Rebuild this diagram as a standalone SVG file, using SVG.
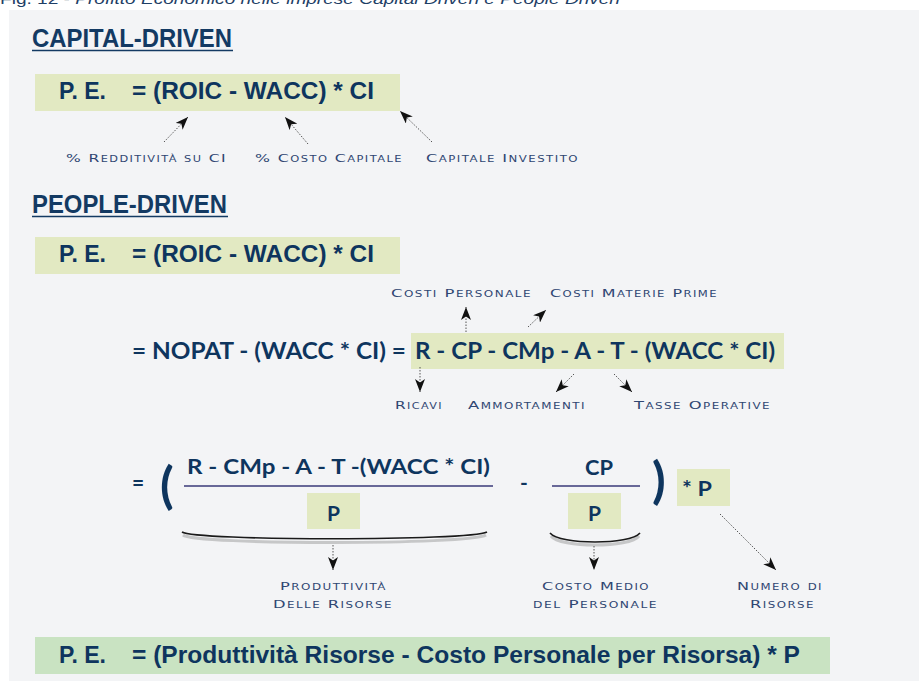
<svg xmlns="http://www.w3.org/2000/svg" width="919" height="681" viewBox="0 0 919 681">
<style>
.cap{font-family:"Liberation Sans",Arial,sans-serif;font-style:italic;font-size:15px;fill:#1f3f66}
.hdr{font-family:"Liberation Sans",Arial,sans-serif;font-weight:bold;font-size:25px;fill:#133a63}
.ul{stroke:#133a63;stroke-width:1.6}
.box{fill:#e2e9c2}
.box2{fill:#c9e3c2}
.f1{font-family:"Liberation Sans",Arial,sans-serif;font-weight:bold;font-size:24px;fill:#0e355e}
.f2{font-family:Lato,"Open Sans",sans-serif;font-weight:bold;font-size:23px;fill:#0e355e}
.f3{font-family:Lato,"Open Sans",sans-serif;font-weight:bold;font-size:21px;fill:#0e355e}
.paren{font-family:Lato,"Open Sans",sans-serif;font-weight:bold;font-size:50px;fill:#0e355e}
.lbl{font-family:"DejaVu Sans",Verdana,sans-serif;font-size:11px;font-variant:small-caps;fill:#2f4672;letter-spacing:1px}
.arr{stroke:#555;stroke-width:1;stroke-dasharray:1.5 1.5;fill:none}
.frac{stroke:#3a3a78;stroke-width:1.6}
.brace{fill:none;stroke:#1a1a1a;stroke-width:1.6}
.bshadow{fill:none;stroke:#9a9a9a;stroke-width:3;opacity:0.5}
</style>
<defs>
<marker id="ah" viewBox="0 0 13 10" markerWidth="13" markerHeight="10" refX="13" refY="5" orient="auto" markerUnits="userSpaceOnUse">
<path d="M0,0 L13,5 L0,10 L3.5,5 Z" fill="#111"/>
</marker>
</defs>
<rect x="0" y="0" width="919" height="681" fill="#ffffff"/>
<rect x="9" y="10" width="910" height="671" fill="#f3f4f6"/>
<text class="cap" x="0" y="4" textLength="620" lengthAdjust="spacingAndGlyphs"><tspan font-style="normal">Fig. 12 - </tspan>Profitto Economico nelle imprese Capital Driven e People Driven</text>

<g id="capital-header">
<text class="hdr" x="32" y="47" textLength="200" lengthAdjust="spacingAndGlyphs">CAPITAL-DRIVEN</text>
<line class="ul" x1="32" y1="50.5" x2="233" y2="50.5"/>
</g>
<g id="capital-formula">
<rect class="box" x="35" y="74" width="365" height="37"/>
<text class="f1" x="59" y="99" textLength="47" lengthAdjust="spacingAndGlyphs">P. E.</text>
<text class="f1" x="132" y="99" textLength="242" lengthAdjust="spacingAndGlyphs">= (ROIC - WACC) * CI</text>
</g>
<g id="lbl-redditivita"><text class="lbl" x="66" y="162" textLength="161" lengthAdjust="spacingAndGlyphs">% Redditività su CI</text></g>
<g id="lbl-costo-capitale"><text class="lbl" x="255" y="162" textLength="148" lengthAdjust="spacingAndGlyphs">% Costo Capitale</text></g>
<g id="lbl-capitale-investito"><text class="lbl" x="426" y="162" textLength="153" lengthAdjust="spacingAndGlyphs">Capitale Investito</text></g>

<g id="people-header">
<text class="hdr" x="32" y="213" textLength="195" lengthAdjust="spacingAndGlyphs">PEOPLE-DRIVEN</text>
<line class="ul" x1="32" y1="216.5" x2="228" y2="216.5"/>
</g>
<g id="people-formula">
<rect class="box" x="35" y="237" width="365" height="37"/>
<text class="f1" x="59" y="262" textLength="47" lengthAdjust="spacingAndGlyphs">P. E.</text>
<text class="f1" x="132" y="262" textLength="242" lengthAdjust="spacingAndGlyphs">= (ROIC - WACC) * CI</text>
</g>

<g id="nopat-line">
<text class="f2" x="132" y="359" textLength="274" lengthAdjust="spacingAndGlyphs">= NOPAT - (WACC * CI) =</text>
</g>
<g id="expanded-formula">
<rect class="box" x="411" y="333" width="373" height="36"/>
<text class="f2" x="415" y="359" textLength="360" lengthAdjust="spacingAndGlyphs">R - CP - CMp - A - T - (WACC * CI)</text>
</g>
<g id="lbl-costi-personale"><text class="lbl" x="391" y="297" textLength="141" lengthAdjust="spacingAndGlyphs">Costi Personale</text></g>
<g id="lbl-costi-materie"><text class="lbl" x="550" y="297" textLength="168" lengthAdjust="spacingAndGlyphs">Costi Materie Prime</text></g>
<g id="lbl-ricavi"><text class="lbl" x="395" y="409" textLength="48" lengthAdjust="spacingAndGlyphs">Ricavi</text></g>
<g id="lbl-ammortamenti"><text class="lbl" x="468" y="409" textLength="118" lengthAdjust="spacingAndGlyphs">Ammortamenti</text></g>
<g id="lbl-tasse"><text class="lbl" x="634" y="409" textLength="137" lengthAdjust="spacingAndGlyphs">Tasse Operative</text></g>

<g id="fraction-row">
<text class="f3" x="132" y="490">=</text>
<text class="paren" x="160" y="503">(</text>
<text class="f3" x="187" y="474" textLength="303" lengthAdjust="spacingAndGlyphs">R - CMp - A - T -(WACC * CI)</text>
<line class="frac" x1="184" y1="486" x2="493" y2="486"/>
<rect class="box" x="307" y="493" width="53" height="36"/>
<text class="f3" x="333.5" y="521" text-anchor="middle">P</text>
<text class="f3" x="520" y="490">-</text>
<text class="f3" x="585" y="475" textLength="28" lengthAdjust="spacingAndGlyphs">CP</text>
<line class="frac" x1="552" y1="486" x2="640" y2="486"/>
<rect class="box" x="568" y="493" width="53" height="36"/>
<text class="f3" x="594.5" y="521" text-anchor="middle">P</text>
<text class="paren" x="652" y="498">)</text>
</g>
<g id="times-p">
<rect class="box" x="677" y="469" width="53" height="37"/>
<text class="f3" x="682" y="496" textLength="30" lengthAdjust="spacingAndGlyphs">* P</text>
</g>
<g id="braces">
<path class="bshadow" d="M183,535 C195,545 470,545 486,535"/>
<path class="brace" d="M182,532 C195,541 470,541 487,532"/>
<path class="bshadow" d="M551,536 C560,548 630,548 639,536"/>
<path class="brace" d="M550,533 C560,545 630,545 640,533"/>
</g>
<g id="lbl-produttivita">
<text class="lbl" x="280" y="590" textLength="107" lengthAdjust="spacingAndGlyphs">Produttività</text>
<text class="lbl" x="273" y="608" textLength="120" lengthAdjust="spacingAndGlyphs">Delle Risorse</text>
</g>
<g id="lbl-costo-medio">
<text class="lbl" x="542" y="590" textLength="108" lengthAdjust="spacingAndGlyphs">Costo Medio</text>
<text class="lbl" x="533" y="608" textLength="125" lengthAdjust="spacingAndGlyphs">del Personale</text>
</g>
<g id="lbl-numero">
<text class="lbl" x="737" y="590" textLength="86" lengthAdjust="spacingAndGlyphs">Numero di</text>
<text class="lbl" x="750" y="608" textLength="65" lengthAdjust="spacingAndGlyphs">Risorse</text>
</g>

<g id="final-formula">
<rect class="box2" x="35" y="637" width="795" height="37"/>
<text class="f1" x="59" y="663" textLength="47" lengthAdjust="spacingAndGlyphs">P. E.</text>
<text class="f1" x="132" y="663" textLength="668" lengthAdjust="spacingAndGlyphs">= (Produttività Risorse - Costo Personale per Risorsa) * P</text>
</g>

<g id="connectors">
<line class="arr" x1="164" y1="142" x2="188" y2="117" marker-end="url(#ah)"/>
<line class="arr" x1="308" y1="144" x2="285" y2="117" marker-end="url(#ah)"/>
<line class="arr" x1="432" y1="142" x2="400" y2="111" marker-end="url(#ah)"/>
<line class="arr" x1="466" y1="332" x2="466" y2="307" marker-end="url(#ah)"/>
<line class="arr" x1="528" y1="327" x2="546" y2="310" marker-end="url(#ah)"/>
<line class="arr" x1="420" y1="367" x2="420" y2="392" marker-end="url(#ah)"/>
<line class="arr" x1="574" y1="374" x2="556" y2="392" marker-end="url(#ah)"/>
<line class="arr" x1="614" y1="374" x2="632" y2="392" marker-end="url(#ah)"/>
<line class="arr" x1="333" y1="545" x2="333" y2="570" marker-end="url(#ah)"/>
<line class="arr" x1="594" y1="546" x2="594" y2="570" marker-end="url(#ah)"/>
<line class="arr" x1="720" y1="514" x2="776" y2="570" marker-end="url(#ah)"/>
</g>
</svg>
